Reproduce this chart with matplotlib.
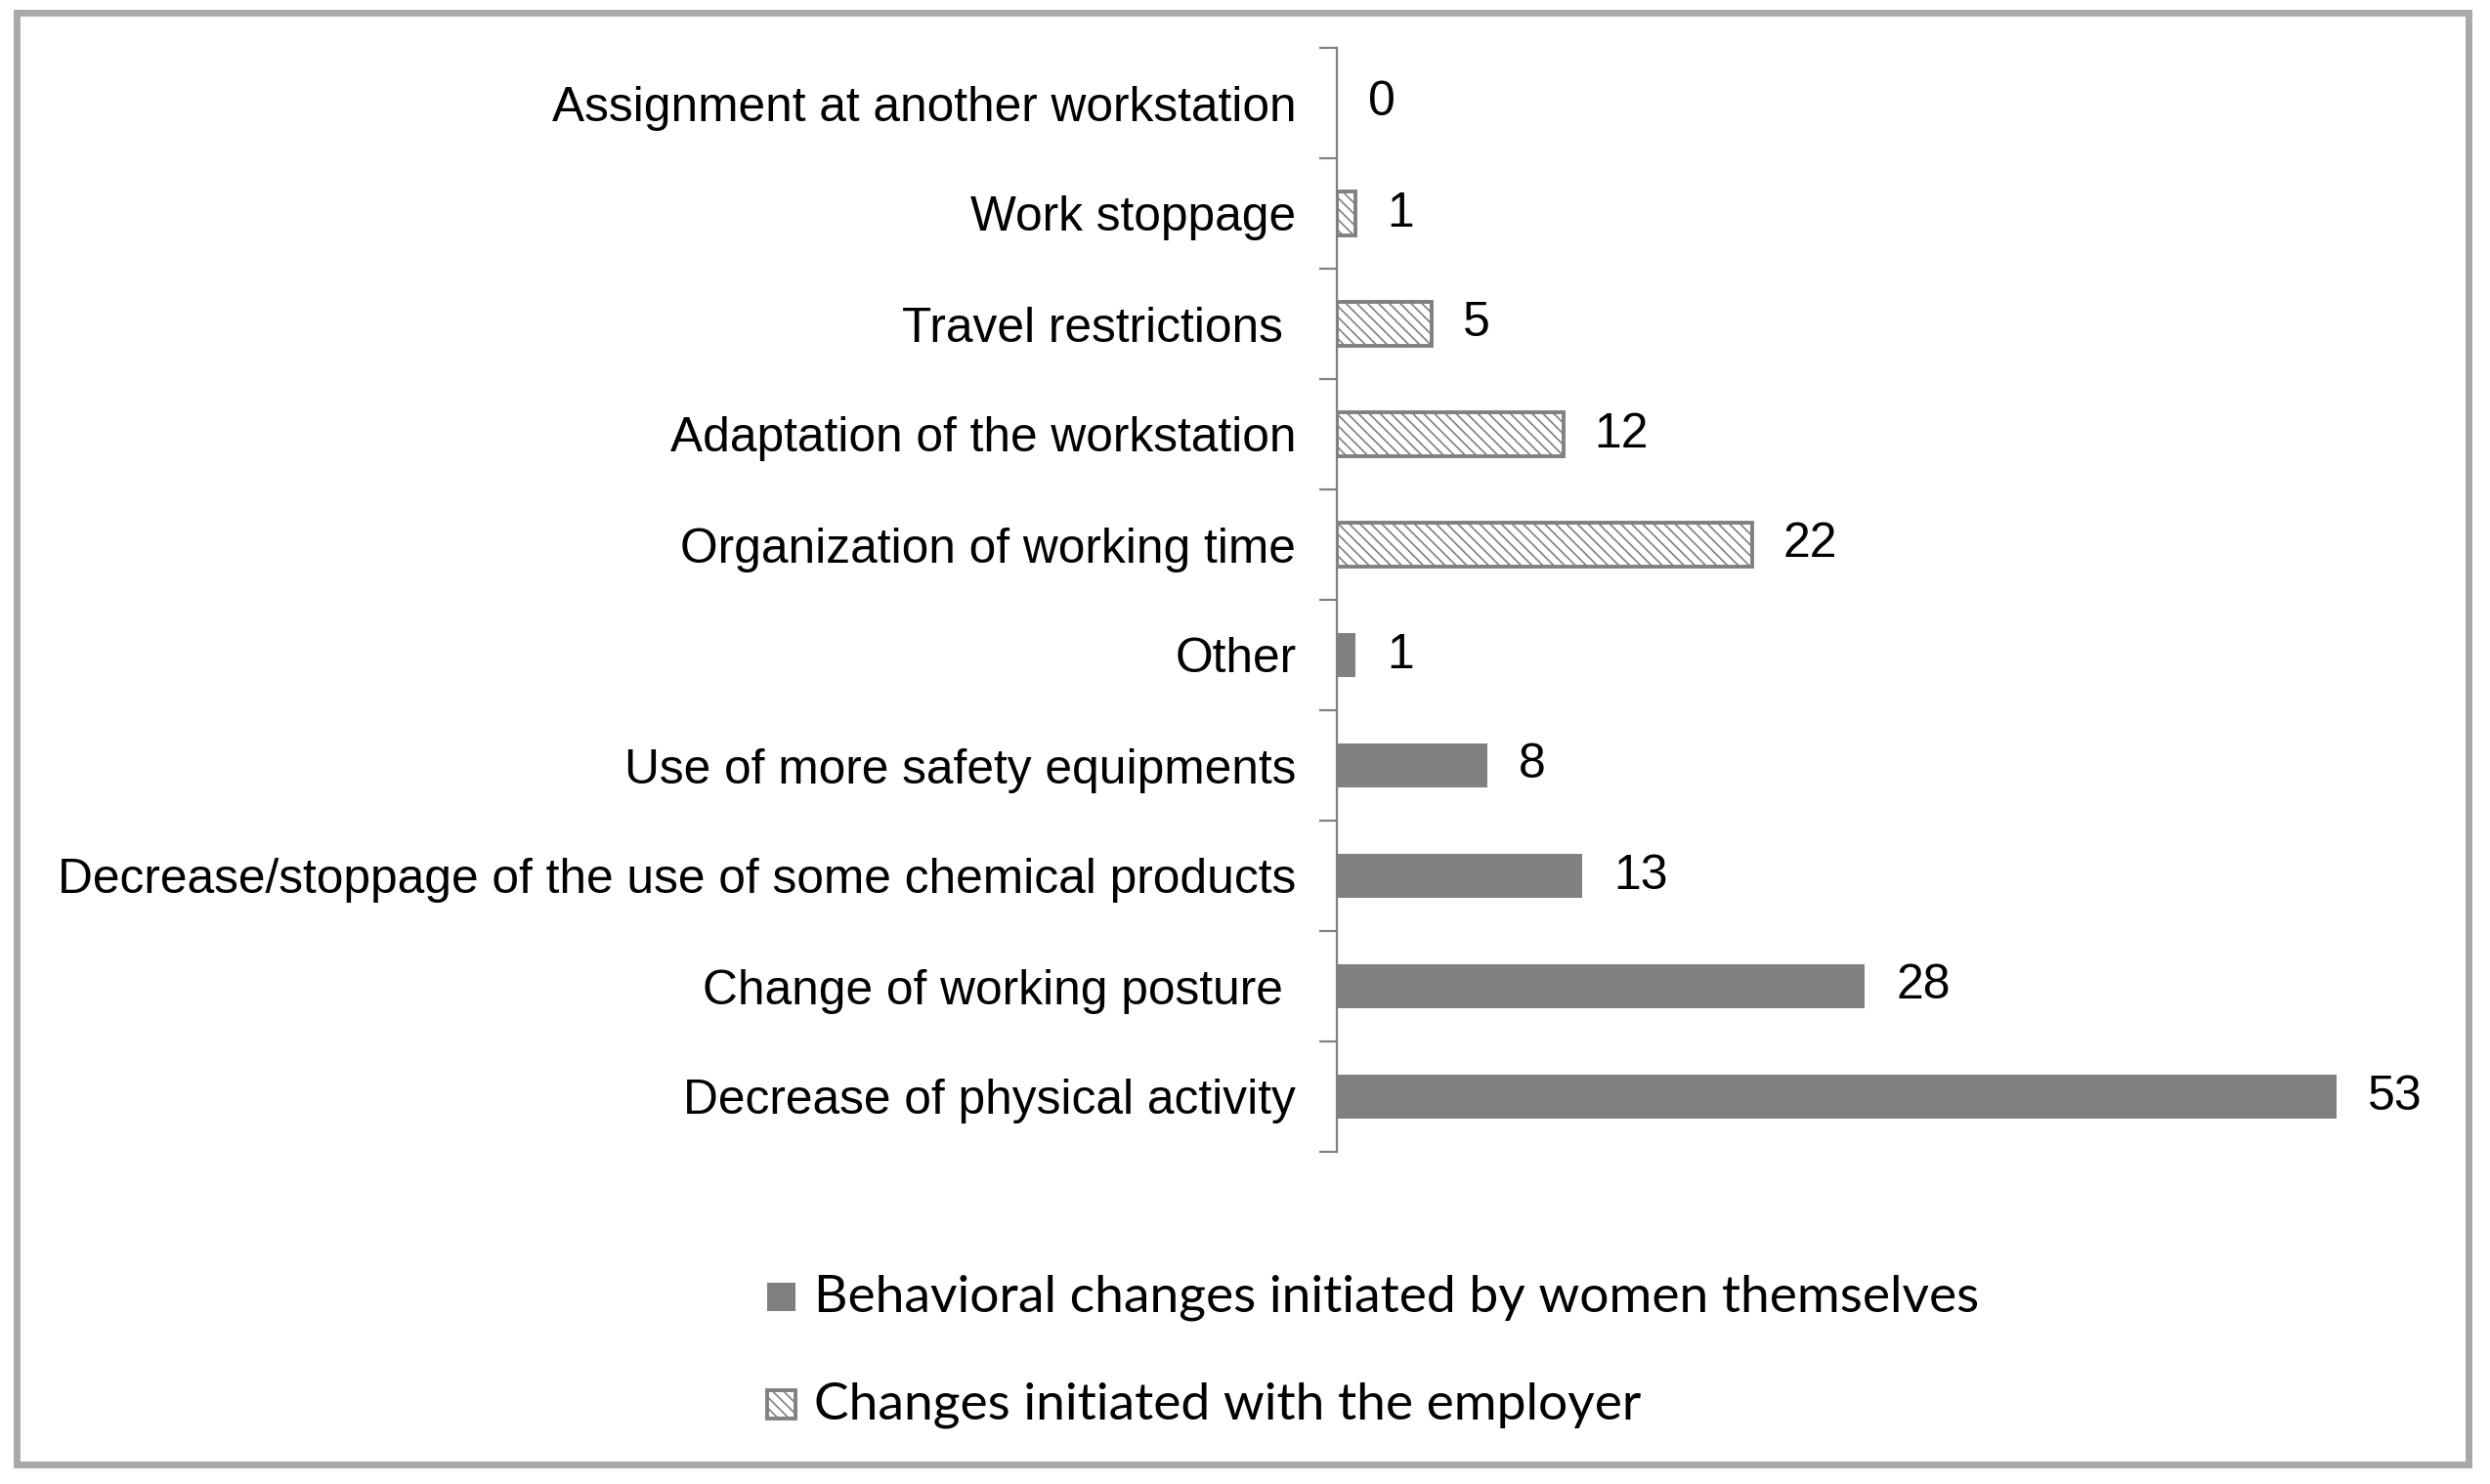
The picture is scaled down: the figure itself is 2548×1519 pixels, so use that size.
import matplotlib
matplotlib.use("Agg")
import matplotlib.pyplot as plt
from matplotlib.patches import Rectangle
import numpy as np

# ---- data (top to bottom as shown) ----
categories = [
    "Assignment at another workstation",
    "Work stoppage",
    "Travel restrictions ",
    "Adaptation of the workstation",
    "Organization of working time",
    "Other",
    "Use of more safety equipments",
    "Decrease/stoppage of the use of some chemical products",
    "Change of working posture ",
    "Decrease of physical activity",
]
employer_cats = categories[:5]
employer_vals = [0, 1, 5, 12, 22]
women_cats = categories[5:]
women_vals = [1, 8, 13, 28, 53]
legend_labels = ["Behavioral changes initiated by women themselves",
                 "Changes initiated with the employer"]

W, H = 2548, 1519
DPI = 100
plt.rcParams['hatch.linewidth'] = 1.2
fig = plt.figure(figsize=(W / DPI, H / DPI), dpi=DPI)
fig.patch.set_facecolor("white")

# axes placement (pixels)
ax_left, ax_bottom_px, ax_top_px = 1368, 1179, 49
px_per_unit = 19.3
xmax = 55
ax = fig.add_axes([ax_left / W, 1 - ax_bottom_px / H,
                   xmax * px_per_unit / W, (ax_bottom_px - ax_top_px) / H])

n = len(categories)
ypos = {c: n - 1 - i for i, c in enumerate(categories)}

gray = "#808080"
b_w = ax.barh([ypos[c] for c in women_cats], women_vals, height=0.4,
              color=gray, edgecolor=gray, linewidth=0, label=legend_labels[0])
b_e = ax.barh([ypos[c] for c in employer_cats], employer_vals, height=0.4,
              color="white", edgecolor=gray, linewidth=2.8, hatch="\\\\\\",
              label=legend_labels[1])

lab_font = "Liberation Sans"
for bars in (b_w, b_e):
    ax.bar_label(bars, padding=23, fontsize=36, family=lab_font, color="black")

# legend handle taken from a non-empty hatched bar; zero-length bar drawn without edge
hatch_handle = [p for p, v in zip(b_e.patches, employer_vals) if v > 0][0]

ax.set_xlim(0, xmax)
ax.set_ylim(-0.5, n - 0.5)
ax.set_yticks([ypos[c] for c in categories])
ax.set_yticklabels(categories, fontsize=35.7, family=lab_font, color="black")
ax.tick_params(axis="y", which="major", length=0, pad=30)
ax.set_yticks(np.arange(-0.5, n, 1.0), minor=True)
ax.tick_params(axis="y", which="minor", length=13, width=1.6, color=gray,
               direction="out")
ax.set_xticks([])
for s in ("top", "right", "bottom"):
    ax.spines[s].set_visible(False)
ax.spines["left"].set_color(gray)
ax.spines["left"].set_linewidth(1.6)
ax.spines["left"].set_zorder(5)
ax.patch.set_alpha(0)

# legend
leg = fig.legend(handles=[b_w, hatch_handle], labels=legend_labels,
                 loc="upper left", bbox_to_anchor=(785 / W, 1 - 1304 / H),
                 frameon=False, borderpad=0, borderaxespad=0,
                 prop={"family": "Lato", "size": 30},
                 handlelength=0.7, handleheight=0.7, handletextpad=0.45,
                 labelspacing=1.5)

for p, v in zip(b_e.patches, employer_vals):
    if v == 0:
        p.set_linewidth(0)

# fit legend font to reference width
fig.canvas.draw()
r = fig.canvas.get_renderer()
tw = leg.get_texts()[0].get_window_extent(r).width
target = 2026 - 834
newsize = 30 * target / tw
for t in leg.get_texts():
    t.set_fontsize(newsize)

# outer border
fig.patches.append(Rectangle((17 / W, 1 - 1499 / H), (2526 - 17) / W, (1499 - 13) / H,
                             transform=fig.transFigure, fill=False,
                             edgecolor="#a9a9a9", linewidth=5, zorder=10))

fig.savefig("out.png", dpi=DPI, facecolor="white")
